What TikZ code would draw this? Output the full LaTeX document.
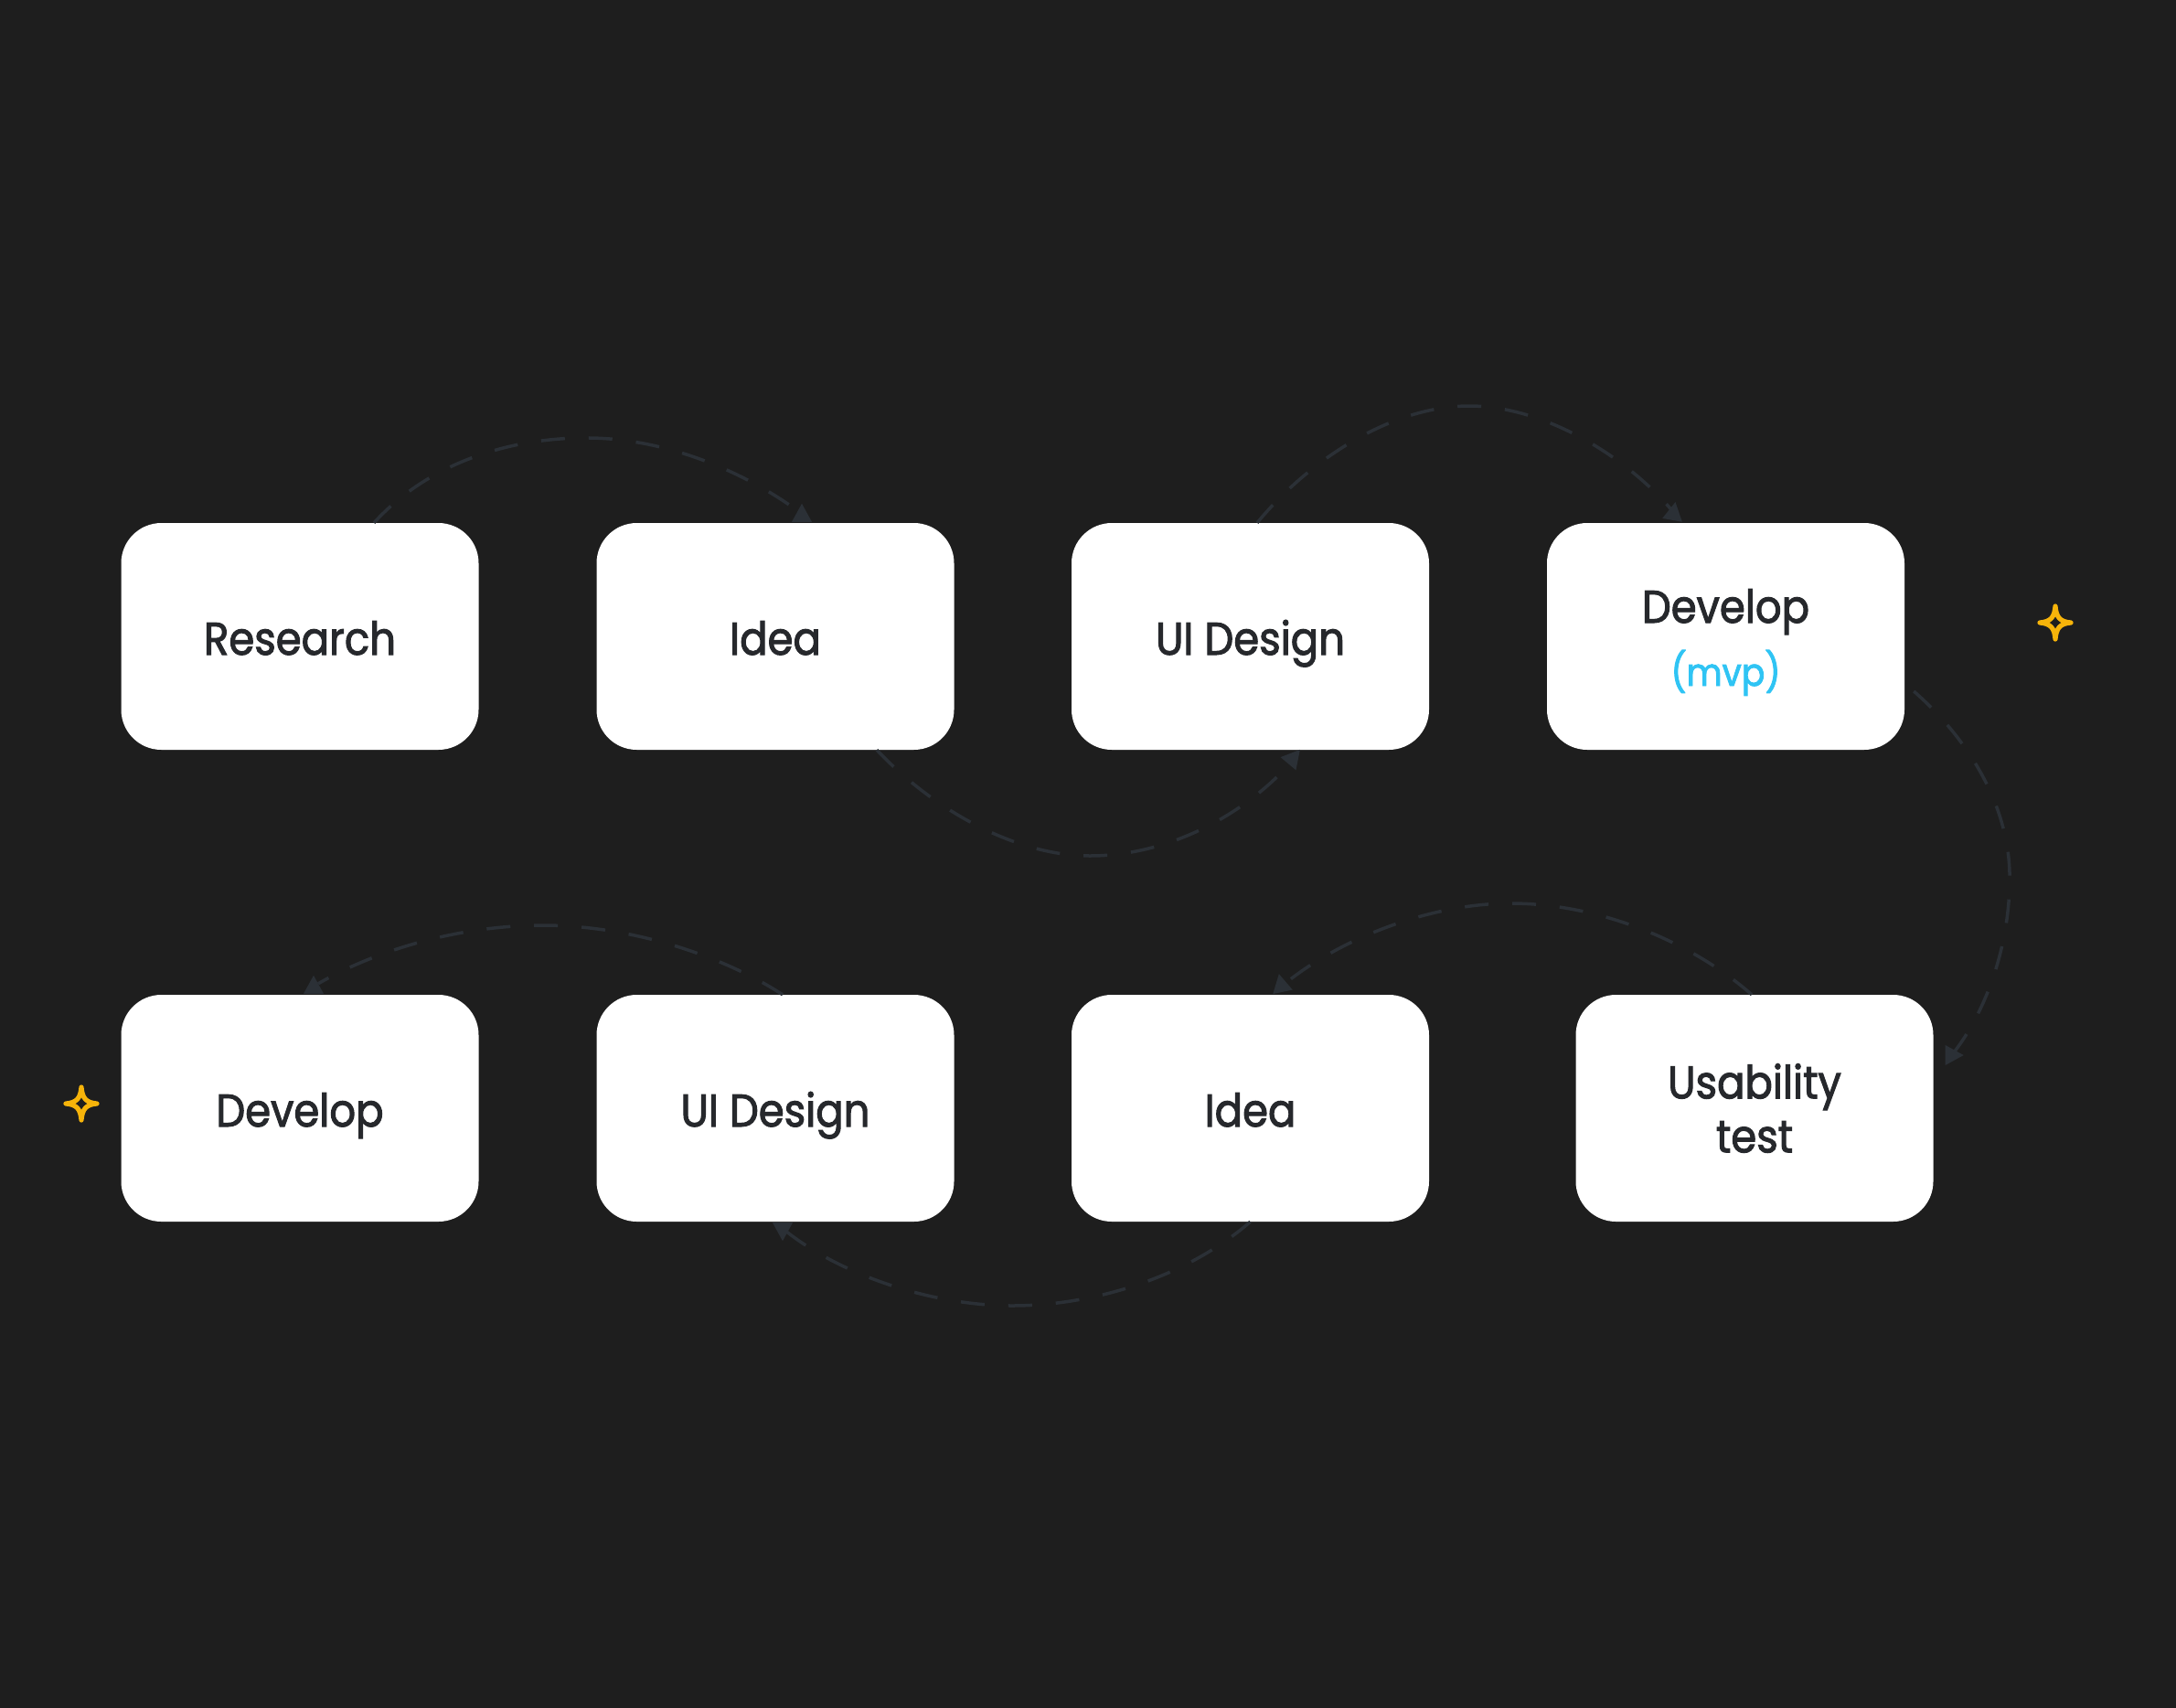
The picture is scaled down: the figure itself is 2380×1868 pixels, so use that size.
\documentclass[tikz,border=0pt]{standalone}
\usepackage{fontspec}
\setmainfont{Poppins}[FakeStretch=0.9,FakeBold=2]
\usetikzlibrary{calc}
\definecolor{bg}{HTML}{1E1E1E}
\definecolor{ink}{HTML}{26282C}
\definecolor{mvpc}{HTML}{2FC4F4}
\definecolor{linec}{HTML}{2B3036}
\definecolor{starc}{HTML}{F7B40A}
\begin{document}
\begin{tikzpicture}[x=1pt,y=-1pt,
  card/.style={fill=white, rounded corners=44pt, minimum width=391pt, minimum height=248pt,
    inner sep=0pt, text=ink, font=\fontsize{50}{55}\selectfont, align=center},
  oneline/.style={card, text height=40pt, text depth=0pt},
  flow/.style={draw=linec, line width=3.5pt, dash pattern=on 26pt off 26pt},
  tipmark/.pic={\fill[linec] (0,-20) -- (11,0) -- (-11,0) -- cycle;},
  sparkle/.pic={\draw[starc, line width=5.2pt, line join=round]
    (0,-18) .. controls (1,-6) and (5,-1) .. (17,0)
    .. controls (5,1) and (1,6) .. (0,18)
    .. controls (-1,6) and (-5,1) .. (-17,0)
    .. controls (-5,-1) and (-1,-6) .. (0,-18) -- cycle;}
]
\fill[bg] (0,0) rectangle (2380,1868);
\useasboundingbox (0,0) rectangle (2380,1868);

% top row
\node[oneline] (res)   at (328,696)    {Research};
\node[oneline] (idea1) at (848,696)    {Idea};
\node[oneline] (ui1)   at (1367.5,696) {UI Design};
\node[card]    (dev1)  at (1887.5,696) {\rule{0pt}{50pt}Develop\\[14pt]{\fontsize{42}{46}\selectfont\color{mvpc}(mvp)}};

% bottom row
\node[oneline] (dev2)  at (328,1212)    {Develop};
\node[oneline] (ui2)   at (848,1212)    {UI Design};
\node[oneline] (idea2) at (1367.5,1212) {Idea};
\node[card]    (usab)  at (1919,1212)   {Usability\\[4pt]test};

% connectors
\draw[flow] ([shift={(81,0)}]res.north) .. controls (470,505) and (560,478) .. (645,479)
  .. controls (735,480) and (820,520) .. ([shift={(26,-12)}]idea1.north);
\pic at ([shift={(29,-1)}]idea1.north) {tipmark};

\draw[flow] ([shift={(111,0)}]idea1.south) .. controls (1020,885) and (1110,936) .. (1192,936)
  .. controls (1280,936) and (1360,890) .. ([shift={(40.5,18)}]ui1.south);
\pic[rotate=-40] at ([shift={(41.5,15)}]ui1.south) {tipmark};

\draw[flow] ([shift={(7.5,0)}]ui1.north) .. controls (1430,505) and (1520,444) .. (1607,444)
  .. controls (1690,444) and (1780,500) .. ([shift={(-57.5,-12)}]dev1.north);
\pic[rotate=-10] at ([shift={(-58.5,-3)}]dev1.north) {tipmark};

\draw[flow] ([shift={(10,60)}]dev1.east) .. controls (2155,810) and (2200,885) .. (2198,965)
  .. controls (2197,1040) and (2170,1110) .. ([shift={(20,-58)}]usab.east);
\pic[rotate=-90] at ([shift={(13,-58)}]usab.east) {tipmark};

\draw[flow] ([shift={(-3,0)}]usab.north) .. controls (1850,1030) and (1750,988) .. (1652,988)
  .. controls (1560,988) and (1460,1030) .. ([shift={(35.5,-10)}]idea2.north);
\pic[rotate=12] at ([shift={(35.5,-3)}]idea2.north) {tipmark};

\draw[flow] (idea2.south) .. controls (1300,1395) and (1200,1428) .. (1107,1428)
  .. controls (1020,1428) and (920,1395) .. ([shift={(10,9)}]ui2.south);
\pic[rotate=180] at ([shift={(8,1)}]ui2.south) {tipmark};

\draw[flow] ([shift={(8,0)}]ui2.north) .. controls (790,1045) and (690,1012) .. (594,1012)
  .. controls (500,1012) and (410,1040) .. ([shift={(20,-12)}]dev2.north);
\pic at ([shift={(15,-1)}]dev2.north) {tipmark};

% sparkles
\pic at (2248,681) {sparkle};
\pic at (89,1207) {sparkle};
\end{tikzpicture}
\end{document}
